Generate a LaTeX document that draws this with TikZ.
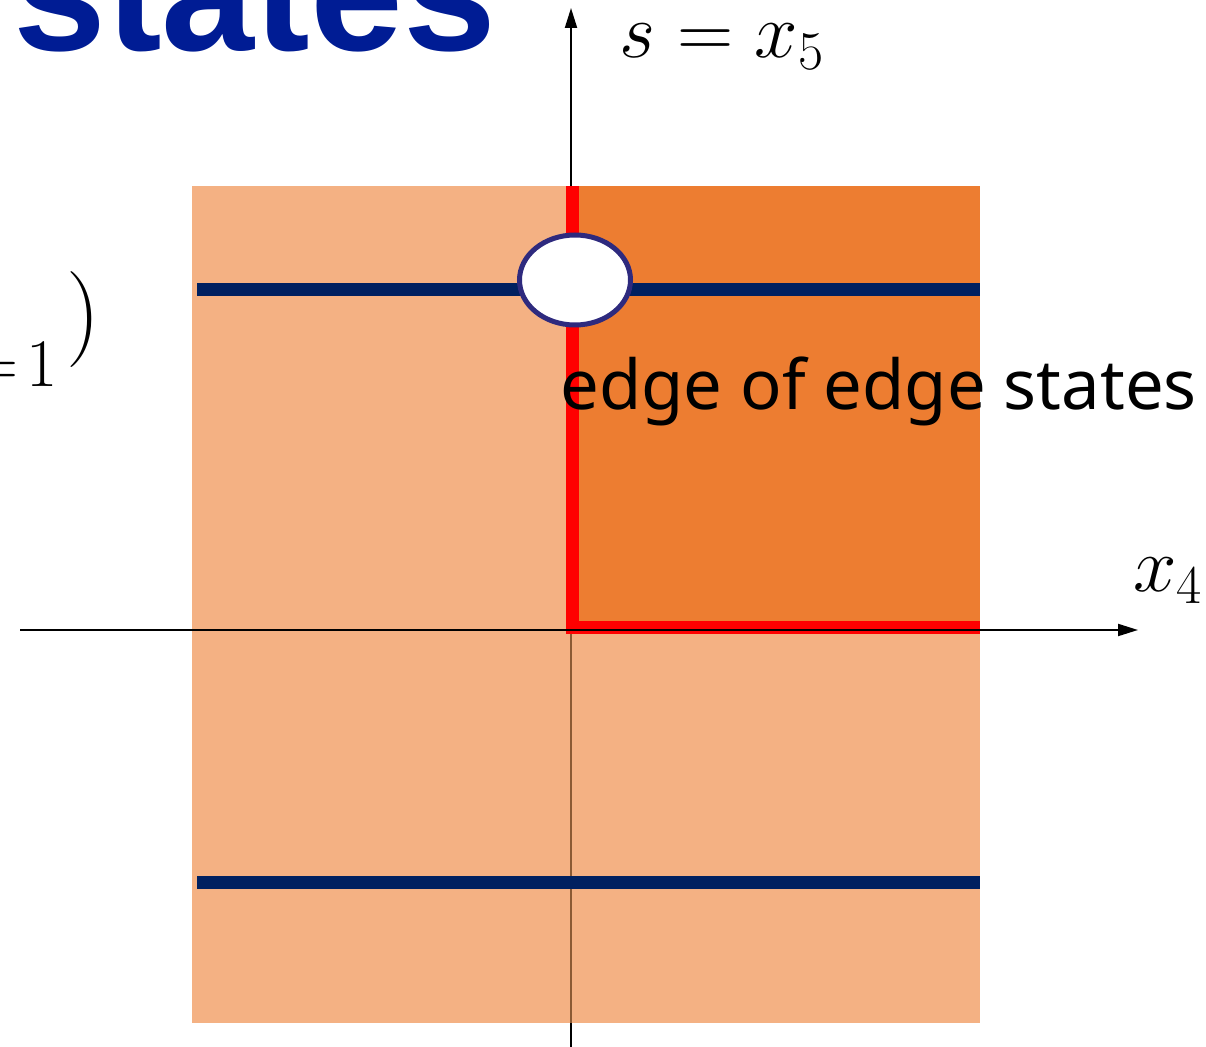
\RequirePackage{fix-cm}
\documentclass[tikz,border=0pt]{standalone}
\usepackage{fontspec}
\setsansfont{Noto Sans}
\newfontfamily\titlefont{Liberation Sans}
\usetikzlibrary{shapes.geometric,arrows.meta}
\definecolor{light-orange}{RGB}{244,177,131}
\definecolor{dark-orange}{RGB}{237,125,49}
\definecolor{navy-line}{RGB}{0,32,96}
\definecolor{title-blue}{RGB}{0,28,148}
\definecolor{ring-blue}{RGB}{46,42,126}
\definecolor{axis-brown}{RGB}{139,90,52}
\tikzstyle{axis-line} = [draw=black, line width=1pt,
    -{Triangle[length=10pt,width=6pt]}]
\tikzstyle{level-line} = [draw=navy-line, line width=6.5pt]
\tikzstyle{edge-line} = [draw=red, line width=6.5pt]
\tikzstyle{axis-label} = [font=\fontsize{39}{47}\selectfont, inner sep=0pt]
\tikzstyle{hole} = [ellipse, draw=ring-blue, fill=white, line width=2.5pt,
    minimum width=55.5pt, minimum height=45pt, inner sep=0pt]

\begin{document}
\begin{tikzpicture}[x=0.5pt,y=-0.5pt]
\clip (0,0) rectangle (1206,1047);
% regions
\fill[light-orange] (192,186) rectangle (980,1023);
\fill[dark-orange] (572,186) rectangle (980,628);
% axes
\coordinate (origin) at (571,630);
\coordinate (y-bottom) at (571,1047);
\coordinate (y-top) at (571,8);
\coordinate (x-left) at (20,630);
\coordinate (x-right) at (1138,630);
\coordinate (box-bottom) at (571,1023);
\draw[axis-line] (y-bottom) -- (y-top);
\draw[axis-brown, line width=1pt] ([yshift=-2pt]origin) -- (box-bottom);
% levels
\coordinate (upper-left) at (197,290);
\coordinate (upper-right) at (980,290);
\coordinate (lower-left) at (197,883);
\coordinate (lower-right) at (980,883);
\draw[level-line] (upper-left) -- (upper-right);
\draw[level-line] (lower-left) -- (lower-right);
% edge
\coordinate (edge-top) at (572,186);
\coordinate (edge-corner) at (572,628);
\coordinate (edge-end) at (980,628);
\draw[edge-line] (edge-top) -- (edge-corner) -- (edge-end);
\node[hole] (gap) at (575,280) {};
\draw[axis-line] (x-left) -- (x-right);
% labels
\node[axis-label, anchor=base west] (s-label) at (619,58) {$s=x_5$};
\node[axis-label, anchor=base west] (x-label) at (1133,592) {$x_4$};
\node[anchor=base west, inner sep=0pt, font=\sffamily\fontsize{34.4}{40}\selectfont]
    (edge-label) at (560,410) {edge of edge states};
\node[anchor=base west, inner sep=0pt, text=title-blue,
    font=\titlefont\bfseries\fontsize{83.5}{96}\selectfont]
    (title) at (13,51) {states};
\node[anchor=base east, inner sep=0pt, font=\fontsize{34}{40}\selectfont]
    (index) at (58,387) {$=\!1$};
\node[anchor=base west, inner sep=0pt, font=\fontsize{48}{56}\selectfont]
    (paren) at (66,344) {$)$};
\end{tikzpicture}
\end{document}
